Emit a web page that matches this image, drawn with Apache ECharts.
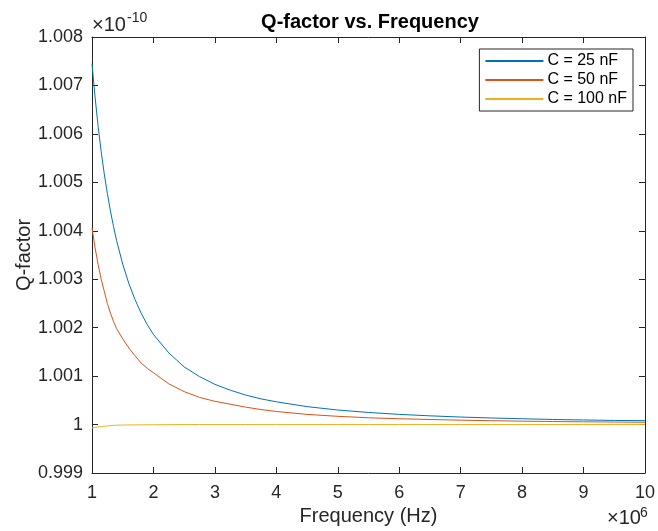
<!DOCTYPE html>
<html>
<head>
<meta charset="utf-8">
<script src="https://cdn.jsdelivr.net/npm/echarts@6/dist/echarts.min.js"></script>
<style>html,body{margin:0;padding:0;background:#fff}#c{width:658px;height:531px}</style>
</head>
<body>
<div id="c"></div>
<script>
// Frequency in units of 1e6 Hz (axis exponent x10^6)
const freq = [1,1.05,1.1,1.15,1.2,1.25,1.3,1.35,1.4,1.5,1.6,1.7,1.8,1.9,2,2.25,2.5,2.75,3,3.25,3.5,3.75,4,4.5,5,5.5,6,6.5,7,7.5,8,8.5,9,9.5,10];
// Q-factor in units of 1e-10 (axis exponent x10^-10)
const q25 = [1.00745,1.00676,1.00615,1.00563,1.00517,1.00477,1.00441,1.00409,1.00380,1.00331,1.00291,1.00258,1.00230,1.00206,1.00186,1.00148,1.00119,1.00099,1.00083,1.00071,1.00061,1.00053,1.00047,1.00037,1.00030,1.00025,1.00021,1.00018,1.000155,1.000135,1.00012,1.000105,1.000095,1.000085,1.00008];
const q50 = [1.00406,1.00365,1.00330,1.00300,1.00275,1.00250,1.00230,1.00213,1.00198,1.00177,1.00158,1.00142,1.00127,1.00116,1.00107,1.00084,1.00068,1.00056,1.00048,1.00042,1.00036,1.00031,1.00027,1.00021,1.00017,1.00014,1.00012,1.000105,1.00009,1.00008,1.00007,1.000063,1.000057,1.000052,1.000048];
const q100 = [0.99993,0.99994,0.99995,0.999958,0.999965,0.999972,0.999978,0.999983,0.999987,0.99999,0.999992,0.999993,0.999994,0.999995,0.999996,0.999998,1,1,1,1,1,1,1,1,1,1,1,1,1,1,1,1,1,1,1];
const seriesNames = ['C = 25 nF','C = 50 nF','C = 100 nF'];
const seriesColors = ['#0072BD','#D95319','#EDB120'];
const xTitle = 'Frequency (Hz)';
const yTitle = 'Q-factor';
const chartTitle = 'Q-factor vs. Frequency';

const FONT = '"Liberation Sans", Arial, Helvetica, sans-serif';
const AX = '#262626';
const pairs = (ys) => freq.map((f,i)=>[f, ys[i]]);
const fmtY = v => String(+(+v).toFixed(3));

const chart = echarts.init(document.getElementById('c'), null, {renderer:'canvas'});
const tickCommon = {show:true, inside:true, length:6, lineStyle:{color:AX, width:1}};
chart.setOption({
  animation:false,
  backgroundColor:'#fff',
  textStyle:{fontFamily:FONT},
  title:{text:chartTitle, left:370, textAlign:'center', top:12, padding:0,
    textStyle:{fontFamily:FONT, fontSize:20, fontWeight:'bold', color:'#000'}},
  grid:{left:92, right:10, top:37, bottom:57, containLabel:false},
  legend:{show:true, orient:'vertical', right:25, top:49, itemWidth:58, itemHeight:14, itemGap:3,
    padding:[4,6,4,5], borderColor:AX, borderWidth:1, backgroundColor:'#fff', borderRadius:0,
    itemStyle:{opacity:0},
    textStyle:{fontFamily:FONT, fontSize:16, color:'#000', padding:[0,0,0,-1]},
    data:seriesNames},
  xAxis:[
    {type:'value', min:1, max:10, interval:1, position:'bottom',
     name:xTitle, nameLocation:'middle', nameGap:33, nameMoveOverlap:false,
     nameTextStyle:{fontFamily:FONT, fontSize:20, color:AX},
     axisLine:{show:true, onZero:false, lineStyle:{color:AX, width:1}},
     axisTick:tickCommon, splitLine:{show:false},
     axisLabel:{fontFamily:FONT, fontSize:18, color:AX, margin:11}},
    {type:'value', min:1, max:10, interval:1, position:'top',
     axisLine:{show:true, onZero:false, lineStyle:{color:AX, width:1}},
     axisTick:tickCommon, splitLine:{show:false}, axisLabel:{show:false}}
  ],
  yAxis:[
    {type:'value', min:0.999, max:1.008, interval:0.001, position:'left',
     name:yTitle, nameLocation:'middle', nameGap:58, nameRotate:90, nameMoveOverlap:false,
     nameTextStyle:{fontFamily:FONT, fontSize:20, color:AX},
     axisLine:{show:true, onZero:false, lineStyle:{color:AX, width:1}},
     axisTick:tickCommon, splitLine:{show:false},
     axisLabel:{fontFamily:FONT, fontSize:18, color:AX, margin:9, formatter:fmtY}},
    {type:'value', min:0.999, max:1.008, interval:0.001, position:'right',
     axisLine:{show:true, onZero:false, lineStyle:{color:AX, width:1}},
     axisTick:tickCommon, splitLine:{show:false}, axisLabel:{show:false}}
  ],
  graphic:[
    {type:'text', left:92, top:15, style:{text:'\u00d710', font:'20px '+FONT, fill:AX}},
    {type:'text', left:127, top:11, style:{text:'-10', font:'14px '+FONT, fill:AX}},
    {type:'text', left:607, top:508, style:{text:'\u00d710', font:'20px '+FONT, fill:AX}},
    {type:'text', left:640, top:506, style:{text:'6', font:'14px '+FONT, fill:AX}}
  ],
  series:[q25,q50,q100].map((ys,i)=>({
    name:seriesNames[i], type:'line', data:pairs(ys), showSymbol:false, symbol:'none',
    smooth:false, color:seriesColors[i], lineStyle:{color:seriesColors[i], width:1},
    xAxisIndex:0, yAxisIndex:0, z:3-i
  }))
});
</script>
</body>
</html>
